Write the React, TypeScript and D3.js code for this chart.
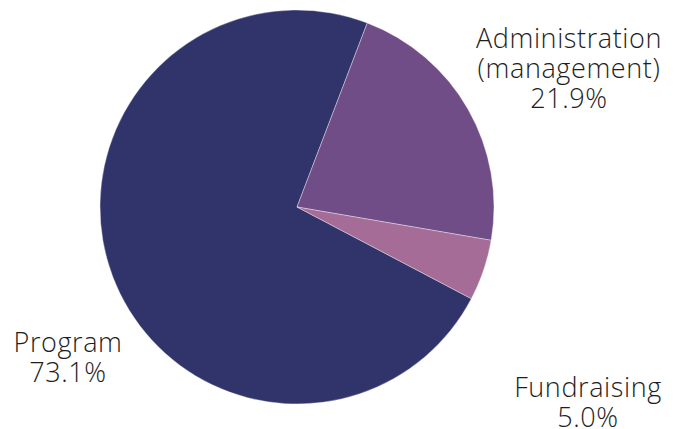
import React from "react";
import * as d3 from "d3";

const categories = ["Program", "Administration\n(management)", "Fundraising"];
const values = [73.1, 21.9, 5.0];
const colors = ["#30346b", "#714d88", "#a46c97"];

const W = 676;
const H = 429;
const cx = 297;
const cy = 207;
const R = 197;

// label anchor positions (center x, first baseline y)
const labelPos: [number, number][] = [
  [68, 352],
  [569, 48],
  [588, 397],
];

export default function App() {
  const total = d3.sum(values);
  const adminStart = (20.9 * Math.PI) / 180;
  const programAngle = (values[0] / total) * 2 * Math.PI;
  const pie = d3
    .pie<number>()
    .sort(null)
    .value((d) => d)
    .startAngle(adminStart - programAngle)
    .endAngle(adminStart - programAngle + 2 * Math.PI);
  const arcs = pie(values);
  const arc = d3.arc<d3.PieArcDatum<number>>().innerRadius(0).outerRadius(R);
  const lh = 30;
  return (
    <svg width={W} height={H} style={{ position: "absolute", left: 0, top: 0 }}>
      <g transform={`translate(${cx},${cy})`}>
        {arcs.map((a, i) => (
          <path key={i} d={arc(a) || ""} fill={colors[i]} stroke="#ffffff" strokeWidth={0.6} strokeOpacity={0.6} />
        ))}
      </g>
      {categories.map((c, i) => {
        const lines = [...c.split("\n"), `${values[i].toFixed(1)}%`];
        return (
          <text
            key={i}
            x={labelPos[i][0]}
            y={labelPos[i][1]}
            textAnchor="middle"
            fontFamily="'Open Sans', 'Noto Sans', sans-serif"
            fontWeight={300}
            fontSize={27}
            letterSpacing={0.6}
            fill="#1e1e1e"
          >
            {lines.map((l, j) => (
              <tspan key={j} x={labelPos[i][0]} dy={j === 0 ? 0 : lh}>
                {l}
              </tspan>
            ))}
          </text>
        );
      })}
    </svg>
  );
}
